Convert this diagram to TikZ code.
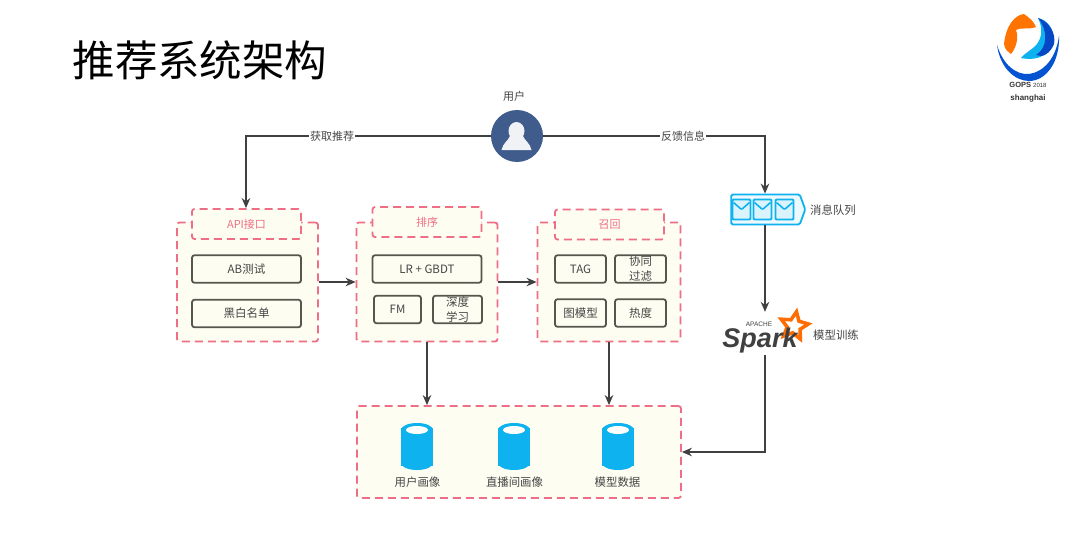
\documentclass[tikz,border=0pt]{standalone}
\usepackage{fontspec}
\setmainfont{Noto Sans CJK SC}
\newfontfamily\sparkfont{Liberation Sans}
\usepackage{tikz}
\usetikzlibrary{arrows.meta,shapes.geometric,shapes.symbols}
\definecolor{dashred}{HTML}{EE6F85}
\definecolor{panelbg}{HTML}{FDFDF1}
\definecolor{boxline}{HTML}{55564E}
\definecolor{textgrey}{HTML}{454545}
\definecolor{skyblue}{HTML}{0DB2EE}
\definecolor{userblue}{HTML}{3F5C8C}
\tikzset{
  >={Stealth[length=10pt, width=8.5pt]},
  conn/.style={draw=black!75, line width=1.9pt, ->},
  panel/.style={draw=dashred, fill=panelbg, line width=1.8pt, rounded corners=2.5pt, dash pattern=on 8pt off 5pt, inner sep=0pt},
  tagbox/.style={panel, minimum width=109pt, minimum height=30pt, text=dashred, font=\fontsize{11}{13}\selectfont},
  algo/.style={draw=boxline, fill=panelbg, line width=1.8pt, rounded corners=2.5pt, inner sep=0pt, minimum width=109pt, minimum height=27.5pt, text=textgrey, font=\fontsize{11.5}{15}\selectfont, align=center},
  small/.style={algo, minimum width=49pt},
  dbbody/.style={fill=skyblue, minimum width=32pt, minimum height=38pt, inner sep=0pt},
  caption/.style={text=textgrey, inner sep=0pt, font=\fontsize{11.4}{14}\selectfont},
  linklabel/.style={caption, fill=white, font=\fontsize{11}{13}\selectfont, inner xsep=1pt, inner ysep=2pt},
  mail/.style={draw=skyblue, fill=white!85!skyblue, line width=1.8pt, rounded corners=1pt, minimum width=18pt, minimum height=20pt, inner sep=0pt,
    path picture={\draw[skyblue, line width=1.6pt] (path picture bounding box.north west) ++(1pt,-3pt) -- (path picture bounding box.center) -- ++(8pt,7pt);}},
}
\begin{document}
\begin{tikzpicture}[x=1pt, y=-1pt]
    \useasboundingbox[fill=white] (0,0) rectangle (1080,551);
    \node[font=\fontsize{42.5}{50}\selectfont, inner sep=0pt] (title) at (200,60) {推荐系统架构};

    \node[panel, minimum width=141pt, minimum height=119pt] (api) at (247.5,282) {};
    \node[tagbox] (apitag) at (246.5,224) {API接口};
    \node[algo] (ab) at (246.5,269) {AB测试};
    \node[algo] (black) at (246.5,313.5) {黑白名单};

    \node[panel, minimum width=141pt, minimum height=119pt] (rank) at (427,282) {};
    \node[tagbox] (ranktag) at (427,222) {排序};
    \node[algo] (lr) at (427,269) {LR + GBDT};
    \node[small, minimum width=47pt] (fm) at (397.5,309.5) {FM};
    \node[small] (deep) at (457.5,309.5) {深度\\学习};

    \node[panel, minimum width=143pt, minimum height=119pt] (recall) at (609,282) {};
    \node[tagbox] (recalltag) at (609.5,224.5) {召回};
    \node[small, minimum width=51pt] (tag) at (580.5,269) {TAG};
    \node[small, minimum width=51pt] (cf) at (640.5,269) {协同\\过滤};
    \node[small, minimum width=51pt] (graph) at (580.5,313) {图模型};
    \node[small, minimum width=51pt] (hot) at (640.5,313) {热度};

    \node[panel, minimum width=324pt, minimum height=92pt] (data) at (519,452) {};
    \foreach \name/\px in {db1/417, db2/514, db3/618} {
      \node[dbbody] (\name) at (\px,446.5) {};
      \fill[skyblue] (\px,430) ellipse (16pt and 7pt);
      \fill[skyblue] (\px,463) ellipse (16pt and 7pt);
      \fill[white] (\px,430) ellipse (11pt and 4pt);
    }
    \node[caption] (cap1) at (417.5,482) {用户画像};
    \node[caption] (cap2) at (514.5,482) {直播间画像};
    \node[caption] (cap3) at (617.5,482) {模型数据};

    \node[circle, fill=userblue, minimum size=52pt, inner sep=0pt] (user) at (517,136) {};
    \node[caption, font=\fontsize{11}{13}\selectfont] (userlabel) at (514,96) {用户};
    \fill[white!92!userblue] (516.5,131) ellipse (8pt and 9pt);
    \fill[white!92!userblue] (501.5,150) .. controls (503,143) and (508,141) .. (510,136) -- (523,136) .. controls (525,141) and (530,143) .. (531.5,150) -- cycle;

    \node[signal, signal to=east, signal from=nowhere, signal pointer angle=140, rounded corners=1.5pt, draw=skyblue, fill=white!92!skyblue, line width=1.8pt, minimum width=74pt, minimum height=30pt, inner sep=0pt] (queue) at (765.5,209.5) {};
    \node[mail] (m1) at (741.5,209.5) {};
    \node[mail] (m2) at (762.5,209.5) {};
    \node[mail] (m3) at (784.5,209.5) {};
    \node[caption, anchor=west] (queuelabel) at (810,210) {消息队列};

    \node[star, star points=5, star point ratio=2.1, draw=orange!85!red, line width=3.5pt, inner sep=0pt, minimum size=29pt, rotate=-10] (sparkstar) at (794,326) {};
    \node[inner sep=0pt, minimum width=76pt, minimum height=43pt] (spark) at (762,333.5) {};
    \node[font=\sparkfont\bfseries\itshape\fontsize{27}{30}\selectfont, text=black!75, inner sep=0pt] (sparkword) at (760,341) {Spark};
    \node[font=\sparkfont\fontsize{6.5}{7}\selectfont, text=black!75, inner sep=0pt] (apache) at (759,324.5) {APACHE};
    \node[caption, anchor=west] (sparklabel) at (813,335) {模型训练};

    \coordinate (apiturn) at (246,136);
    \coordinate (queueturn) at (765,136);
    \coordinate (dataturn) at (765,452);
    \draw[conn] (user) -- (apiturn) -- (apitag.north -| apiturn);
    \draw[conn] (user) -- (queueturn) -- (queue.north -| queueturn);
    \draw[conn] (queue.south -| queueturn) -- (spark.north -| queueturn);
    \draw[conn] (spark.south -| dataturn) -- (dataturn) -- (data.east |- dataturn);
    \draw[conn] (api) -- (rank);
    \draw[conn] (rank) -- (recall);
    \draw[conn] (rank.south) -- (rank.south |- data.north);
    \draw[conn] (recall.south) -- (recall.south |- data.north);
    \node[linklabel] (getrec) at (332,136) {获取推荐};
    \node[linklabel] (feedback) at (683,136) {反馈信息};

    \fill[blue!45!skyblue!85!black] (997,45) .. controls (1000,68) and (1015,81) .. (1029,81) .. controls (1046,81) and (1060,62) .. (1059,36) .. controls (1056,58) and (1044,72) .. (1029,74) .. controls (1015,75) and (1003,64) .. (997,45) -- cycle;
    \fill[orange!90!red] (1004,44) .. controls (1006,25) and (1015,15) .. (1024,14) .. controls (1030,18) and (1034,22) .. (1036,27) .. controls (1028,30) and (1020,27) .. (1016,30) .. controls (1019,38) and (1016,48) .. (1011,54) .. controls (1008,52) and (1005,50) .. (1004,44) -- cycle;
    \fill[skyblue] (1021,58) .. controls (1026,52) and (1032,50) .. (1037,44) .. controls (1043,36) and (1042,26) .. (1038,18) .. controls (1048,20) and (1054,30) .. (1054,40) .. controls (1053,52) and (1040,62) .. (1021,58) -- cycle;
    \fill[blue!50!skyblue!80!black] (1038,18) .. controls (1050,22) and (1056,34) .. (1054,44) .. controls (1050,54) and (1042,58) .. (1036,55) .. controls (1048,48) and (1048,30) .. (1038,18) -- cycle;
    \node[font=\sparkfont\bfseries\fontsize{7.5}{9}\selectfont, text=black!80, inner sep=0pt] (gops) at (1028,85) {GOPS \textmd{\fontsize{6}{8}\selectfont 2018}};
    \node[font=\sparkfont\bfseries\fontsize{8}{9}\selectfont, text=black!80, inner sep=0pt] (shanghai) at (1028,98) {shanghai};
\end{tikzpicture}
\end{document}
